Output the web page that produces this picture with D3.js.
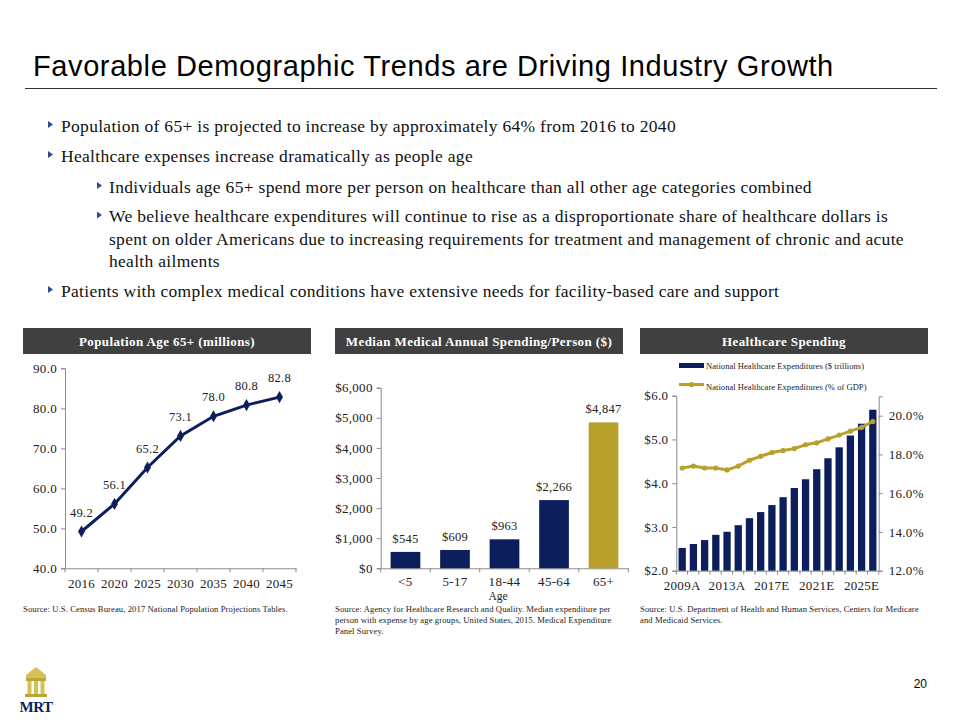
<!DOCTYPE html>
<html><head><meta charset="utf-8">
<script src="https://cdn.jsdelivr.net/npm/d3@7"></script>
<style>
body{margin:0;background:#fff;}
svg text{font-family:"Liberation Serif","Times New Roman",serif;}
</style></head>
<body>
<svg id="c" width="960" height="720"></svg>
<script>
// ---------- DATA ----------
const titleText = "Favorable Demographic Trends are Driving Industry Growth";
const bulletLines = [
  {lvl:1, bullet:true,  text:"Population of  65+ is projected to increase by approximately 64% from 2016 to 2040"},
  {lvl:1, bullet:true,  text:"Healthcare expenses increase dramatically as people age"},
  {lvl:2, bullet:true,  text:"Individuals age 65+ spend more per person on healthcare than all  other age categories combined"},
  {lvl:2, bullet:true,  text:"We believe healthcare expenditures will continue to rise as a disproportionate share of healthcare dollars is"},
  {lvl:2, bullet:false, text:"spent on older Americans due to increasing requirements for treatment and management of chronic and acute"},
  {lvl:2, bullet:false, text:"health ailments"},
  {lvl:1, bullet:true,  text:"Patients with complex medical conditions have extensive needs for facility-based care and support"}
];
const panelTitles = ["Population Age 65+ (millions)", "Median Medical Annual Spending/Person ($)", "Healthcare Spending"];

const popYears = ["2016","2020","2025","2030","2035","2040","2045"];
const popValues = [49.2, 56.1, 65.2, 73.1, 78.0, 80.8, 82.8];
const popTicks = [40, 50, 60, 70, 80, 90];

const ageGroups = ["<5","5-17","18-44","45-64","65+"];
const spendValues = [545, 609, 963, 2266, 4847];
const spendTicks = [0, 1000, 2000, 3000, 4000, 5000, 6000];

const nheYears = ["2009A","2010A","2011A","2012A","2013A","2014A","2015A","2016A","2017E","2018E","2019E","2020E","2021E","2022E","2023E","2024E","2025E","2026E"];
const nheTrillions = [2.52, 2.61, 2.70, 2.82, 2.89, 3.04, 3.20, 3.34, 3.50, 3.68, 3.89, 4.09, 4.32, 4.57, 4.82, 5.09, 5.36, 5.68];
const nheGdpPct = [17.3, 17.4, 17.3, 17.3, 17.2, 17.4, 17.7, 17.9, 18.1, 18.2, 18.3, 18.5, 18.6, 18.8, 19.0, 19.2, 19.4, 19.7];
const nheLeftTicks = [2, 3, 4, 5, 6];
const nheRightTicks = [12, 14, 16, 18, 20];
const nheXLabels = ["2009A","2013A","2017E","2021E","2025E"];
const legendLabels = ["National Healthcare Expenditures ($ trillions)", "National Healthcare Expenditures (% of GDP)"];

const sources = [
  ["Source: U.S. Census Bureau, 2017 National Population Projections Tables."],
  ["Source: Agency for Healthcare Research and Quality. Median expenditure per","person with expense by age groups, United States, 2015.  Medical Expenditure","Panel Survey."],
  ["Source: U.S. Department of Health and Human Services, Centers for Medicare","and Medicaid Services."]
];

// ---------- STYLE ----------
const NAVY = "#0c1f5c", GOLD = "#b8a02a", AXIS = "#8a8a8a", HDR = "#404040", TXT = "#222";
const TICK_FS = "13px";
const svg = d3.select("#c");

// Title
svg.append("text").attr("x", 33).attr("y", 76).text(titleText)
  .style("font-family", "'Liberation Sans',Arial,sans-serif").style("font-size", "29px")
  .style("letter-spacing", "0.6px").attr("fill", "#000");
svg.append("line").attr("x1", 25).attr("x2", 937).attr("y1", 88.5).attr("y2", 88.5).attr("stroke", "#333").attr("stroke-width", 1);

// Bullets
const lineY = [131.5, 161.5, 192.5, 222, 244.5, 266.5, 296.5];
bulletLines.forEach((b, i) => {
  const tx = b.lvl === 1 ? 61 : 109;
  const bx = b.lvl === 1 ? 48 : 97;
  const y = lineY[i];
  if (b.bullet) {
    svg.append("path").attr("d", `M${bx},${y-10.5} L${bx+5},${y-7} L${bx},${y-3.5} Z`).attr("fill", "#2c4d8f");
  }
  svg.append("text").attr("x", tx).attr("y", y).text(b.text).style("font-size", "17.5px")
    .style("letter-spacing", "0.3px").attr("fill", "#111");
});

// Panel headers
const panelX = [[23, 311], [335, 623], [640, 928]];
panelTitles.forEach((t, i) => {
  const [x0, x1] = panelX[i];
  svg.append("rect").attr("x", x0).attr("y", 328).attr("width", x1 - x0).attr("height", 26).attr("fill", HDR);
  svg.append("text").attr("x", (x0 + x1) / 2).attr("y", 345.5).attr("text-anchor", "middle").text(t)
    .style("font-size", "13px").style("letter-spacing", "0.4px").style("font-weight", "bold").attr("fill", "#fff");
});

function styleAxis(g, fs) {
  g.selectAll(".domain").attr("stroke", AXIS);
  g.selectAll(".tick line").attr("stroke", AXIS);
  g.selectAll(".tick text").style("font-family", "'Liberation Serif',serif").style("font-size", fs || TICK_FS)
    .style("letter-spacing", "0.3px").attr("fill", TXT);
}

// ---------- Chart 1: population line ----------
{
  const x = d3.scaleBand().domain(popYears).range([65, 296]);
  const y = d3.scaleLinear().domain([40, 90]).range([568.3, 368.3]);
  const gx = svg.append("g").attr("transform", `translate(0,${y(40)})`)
    .call(d3.axisBottom(x).tickSize(0).tickPadding(10));
  styleAxis(gx);
  gx.selectAll(".bt").data(d3.range(popYears.length + 1)).enter().append("line")
    .attr("x1", i => 65 + i * x.step()).attr("x2", i => 65 + i * x.step())
    .attr("y1", 0).attr("y2", 4).attr("stroke", AXIS);
  const gy = svg.append("g").attr("transform", `translate(65,0)`)
    .call(d3.axisLeft(y).tickValues(popTicks).tickFormat(d3.format(".1f")).tickSize(4).tickPadding(4));
  styleAxis(gy);
  const cx = (d, i) => x(popYears[i]) + x.bandwidth() / 2;
  svg.append("path").datum(popValues)
    .attr("d", d3.line().x(cx).y(d => y(d)))
    .attr("fill", "none").attr("stroke", NAVY).attr("stroke-width", 3);
  svg.selectAll(".pm").data(popValues).enter().append("path")
    .attr("d", d3.symbol().type(d3.symbolDiamond).size(42))
    .attr("transform", (d, i) => `translate(${cx(d, i)},${y(d)})`).attr("fill", NAVY);
  svg.selectAll(".pl").data(popValues).enter().append("text")
    .attr("x", cx).attr("y", d => y(d) - 15).attr("text-anchor", "middle")
    .text(d => d3.format(".1f")(d)).style("font-size", "12.5px").style("letter-spacing", "0.3px").attr("fill", TXT);
}

// ---------- Chart 2: spending bars ----------
{
  const x = d3.scaleBand().domain(ageGroups).range([380.7, 628.3]).paddingInner(0.4).paddingOuter(0.2);
  const y = d3.scaleLinear().domain([0, 6000]).range([568.3, 387.7]);
  const gx = svg.append("g").attr("transform", `translate(0,${y(0)})`)
    .call(d3.axisBottom(x).tickSize(0).tickPadding(8));
  styleAxis(gx);
  const step = (628.3 - 380.7) / ageGroups.length;
  gx.selectAll(".bt").data(d3.range(ageGroups.length + 1)).enter().append("line")
    .attr("x1", i => 380.7 + i * step).attr("x2", i => 380.7 + i * step)
    .attr("y1", 0).attr("y2", 4).attr("stroke", AXIS);
  const gy = svg.append("g").attr("transform", `translate(380.7,0)`)
    .call(d3.axisLeft(y).tickValues(spendTicks).tickFormat(d => "$" + d3.format(",")(d)).tickSize(4).tickPadding(4));
  styleAxis(gy);
  svg.selectAll(".sb").data(spendValues).enter().append("rect")
    .attr("x", (d, i) => x(ageGroups[i])).attr("width", x.bandwidth())
    .attr("y", d => y(d)).attr("height", d => y(0) - y(d))
    .attr("fill", (d, i) => i === ageGroups.length - 1 ? GOLD : NAVY);
  svg.selectAll(".sl").data(spendValues).enter().append("text")
    .attr("x", (d, i) => x(ageGroups[i]) + x.bandwidth() / 2).attr("y", d => y(d) - 9)
    .attr("text-anchor", "middle").text(d => "$" + d3.format(",")(d)).style("font-size", "12.5px")
    .style("letter-spacing", "0.3px").attr("fill", TXT);
  svg.append("text").attr("x", 498).attr("y", 600).attr("text-anchor", "middle").text("Age")
    .style("font-size", "11.5px").attr("fill", TXT);
}

// ---------- Chart 3: healthcare spending combo ----------
{
  const x = d3.scaleBand().domain(nheYears).range([676.3, 878.7]).paddingInner(0.35).paddingOuter(0.2);
  const yL = d3.scaleLinear().domain([2, 6]).range([570.7, 395.7]);
  const yR = d3.scaleLinear().domain([12, 21]).range([570.7, 396.3]);
  const gx = svg.append("g").attr("transform", `translate(0,${yL(2)})`)
    .call(d3.axisBottom(x).tickValues(nheXLabels).tickSize(0).tickPadding(10));
  styleAxis(gx);
  gx.selectAll(".bt").data(d3.range(nheYears.length + 1)).enter().append("line")
    .attr("x1", i => 676.3 + i * (878.7 - 676.3) / nheYears.length).attr("x2", i => 676.3 + i * (878.7 - 676.3) / nheYears.length)
    .attr("y1", 0).attr("y2", 4).attr("stroke", AXIS);
  const gy = svg.append("g").attr("transform", `translate(676.3,0)`)
    .call(d3.axisLeft(yL).tickValues(nheLeftTicks).tickFormat(d => "$" + d3.format(".1f")(d)).tickSize(4).tickPadding(4));
  styleAxis(gy);
  const gr = svg.append("g").attr("transform", `translate(878.7,0)`)
    .call(d3.axisRight(yR).tickValues(nheRightTicks).tickFormat(d => d3.format(".1f")(d) + "%").tickSize(4).tickPadding(6));
  styleAxis(gr);
  svg.selectAll(".nb").data(nheTrillions).enter().append("rect")
    .attr("x", (d, i) => x(nheYears[i])).attr("width", x.bandwidth())
    .attr("y", d => yL(d)).attr("height", d => yL(2) - yL(d)).attr("fill", NAVY);
  const cx = (d, i) => x(nheYears[i]) + x.bandwidth() / 2;
  svg.append("path").datum(nheGdpPct).attr("d", d3.line().x(cx).y(d => yR(d)))
    .attr("fill", "none").attr("stroke", GOLD).attr("stroke-width", 3);
  svg.selectAll(".nm").data(nheGdpPct).enter().append("circle")
    .attr("cx", cx).attr("cy", d => yR(d)).attr("r", 2.6).attr("fill", GOLD);
  // legend
  svg.append("rect").attr("x", 679).attr("y", 363).attr("width", 25).attr("height", 5).attr("fill", NAVY);
  svg.append("line").attr("x1", 679).attr("x2", 704).attr("y1", 384.5).attr("y2", 384.5).attr("stroke", GOLD).attr("stroke-width", 3);
  svg.append("circle").attr("cx", 691.5).attr("cy", 384.5).attr("r", 2.6).attr("fill", GOLD);
  legendLabels.forEach((t, i) => {
    svg.append("text").attr("x", 706).attr("y", 368.5 + i * 21).text(t).style("font-size", "8.5px")
      .style("letter-spacing", "0.05px").attr("fill", TXT);
  });
}

// ---------- Sources ----------
const srcX = [23, 335, 640];
sources.forEach((lines, k) => {
  lines.forEach((t, j) => {
    svg.append("text").attr("x", srcX[k]).attr("y", 612 + j * 11).text(t).style("font-size", "8.6px")
      .style("letter-spacing", "0.1px").attr("fill", TXT);
  });
});

// Page number
svg.append("text").attr("x", 927).attr("y", 688).attr("text-anchor", "end").text("20")
  .style("font-family", "'Liberation Sans',Arial,sans-serif").style("font-size", "12px").attr("fill", "#000");

// Logo
{
  const g = svg.append("g");
  g.append("path").attr("d", "M26,675 L36,667 L46,675 L46,678 L26,678 Z").attr("fill", "#d4c256");
  g.append("rect").attr("x", 26).attr("y", 678).attr("width", 20).attr("height", 3).attr("fill", "#b9a637");
  [27.5, 34, 40.5].forEach(px => g.append("rect").attr("x", px).attr("y", 681).attr("width", 4).attr("height", 13).attr("fill", "#d4c256"));
  g.append("rect").attr("x", 25).attr("y", 694).attr("width", 22).attr("height", 3).attr("fill", "#b9a637");
  g.append("text").attr("x", 36).attr("y", 712).attr("text-anchor", "middle").text("MRT")
    .style("font-size", "15px").style("font-weight", "bold").style("letter-spacing", "-0.5px").attr("fill", NAVY);
}
</script>
</body></html>
